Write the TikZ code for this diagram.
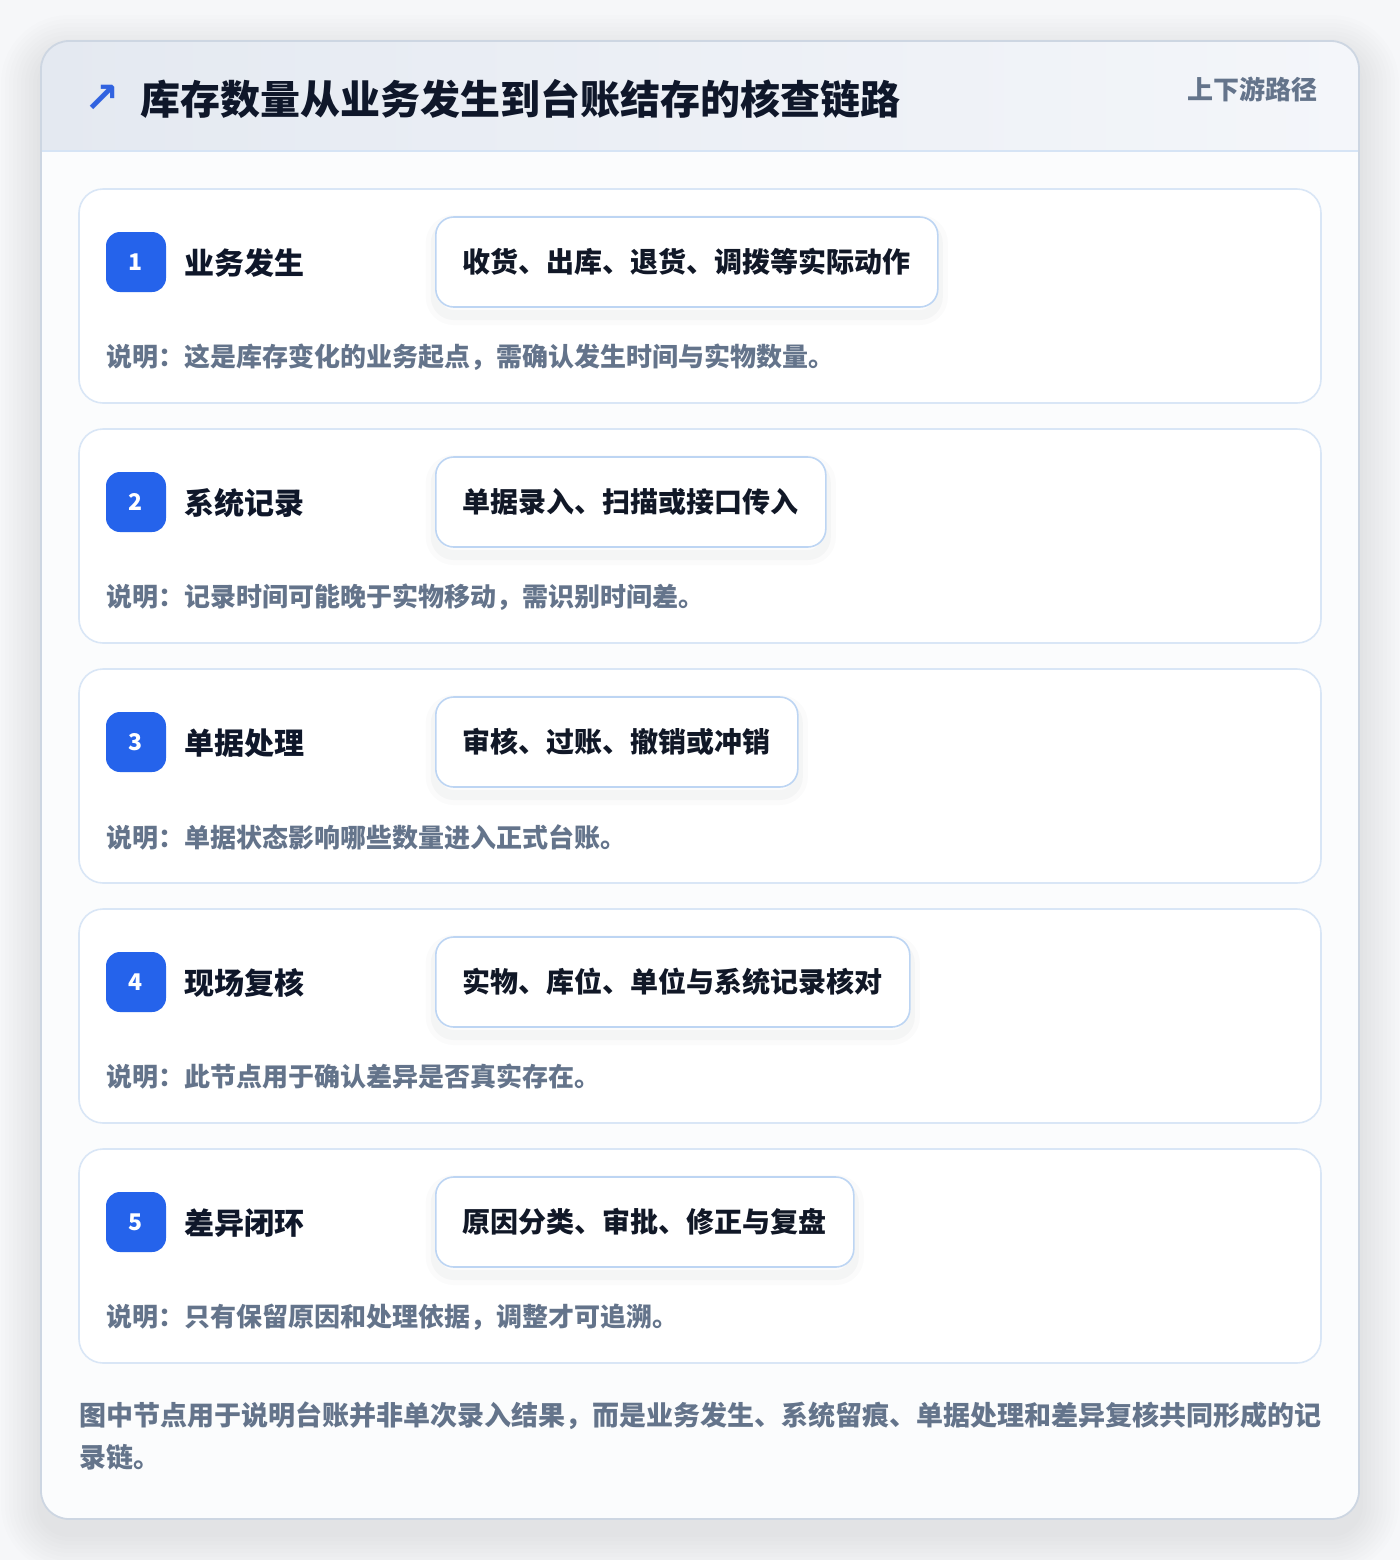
\documentclass[tikz,border=0pt]{standalone}
\usepackage{fontspec}
\setmainfont{Noto Sans CJK SC}
\newfontfamily\symfont{DejaVu Sans}
\usetikzlibrary{positioning, calc}

\definecolor{pagebg}{HTML}{F6F7F9}
\definecolor{panelfill}{HTML}{FBFCFD}
\definecolor{panelline}{HTML}{CDD6E2}
\definecolor{headL}{HTML}{E4E9F1}
\definecolor{headR}{HTML}{F4F6FA}
\definecolor{headline}{HTML}{D6E4F5}
\definecolor{cardline}{HTML}{D9E6F6}
\definecolor{actionline}{HTML}{BDD5F3}
\definecolor{badgeblue}{HTML}{2563EB}
\definecolor{iconblue}{HTML}{3163E0}
\definecolor{titleink}{HTML}{0F172A}
\definecolor{actionink}{HTML}{111827}
\definecolor{noteink}{HTML}{64748B}
\definecolor{shadowink}{HTML}{334155}

\tikzset{
  stepcard/.style={draw=cardline, fill=white, rounded corners=12pt, line width=0.8pt,
    minimum width=621pt, minimum height=107pt},
  numbadge/.style={fill=badgeblue, text=white, rounded corners=7pt, minimum size=30pt,
    inner sep=0pt, font=\fontsize{11.5}{13}\selectfont\bfseries},
  steptitle/.style={anchor=west, inner sep=0pt, text=titleink,
    font=\fontsize{15}{18}\selectfont\bfseries},
  actionbox/.style={anchor=west, draw=actionline, fill=white, rounded corners=9pt,
    line width=0.8pt, inner xsep=13.5pt, minimum height=45pt, text=actionink,
    font=\fontsize{14}{17}\selectfont\bfseries,
    preaction={draw=shadowink, line width=10pt, draw opacity=0.02, transform canvas={yshift=-4pt}},
    preaction={draw=shadowink, line width=5pt, draw opacity=0.03, transform canvas={yshift=-4pt}}},
  notetext/.style={anchor=west, inner sep=0pt, text=noteink,
    font=\fontsize{13}{16}\selectfont\bfseries},
}

\begin{document}
\begin{tikzpicture}[x=0.5pt, y=-0.5pt]
	\useasboundingbox (0,0) rectangle (1400,1560);
	\fill[pagebg] (0,0) rectangle (1400,1560);

	% soft shadow under the panel
	\foreach \r in {4,8,...,40}
		\fill[shadowink, opacity=0.007, rounded corners={(14+\r/2)*1pt}] (41-\r,41-\r+14) rectangle (1359+\r,1519+\r+14);

	% outer panel and header band
	\node (panel) [fill=panelfill, rounded corners=14pt, minimum width=659pt, minimum height=739pt] at (700,780) {};
	\begin{scope}
		\clip[rounded corners=14pt] (41,41) rectangle (1359,1519);
		\shade[left color=headL, right color=headR] (41,41) rectangle (1359,151);
	\end{scope}
	\draw[headline, line width=0.8pt] (41,151) -- (1359,151);
	\draw[panelline, line width=0.9pt, rounded corners=14pt] (41,41) rectangle (1359,1519);

	\node (icon) [text=iconblue, inner sep=0pt, font=\symfont\bfseries\fontsize{21}{24}\selectfont] at (102,99) {↗};
	\node (title) [anchor=west, inner sep=0pt, text=titleink, font=\fontsize{20}{24}\selectfont\bfseries] at (140,99) {库存数量从业务发生到台账结存的核查链路};
	\node (route) [anchor=east, inner sep=0pt, text=noteink, font=\fontsize{13}{16}\selectfont\bfseries] at (1318,89) {上下游路径};

	% step 1
	\node (card1) [stepcard] at (700,296) {};
	\node (num1) [numbadge] at (136,262) {1};
	\node (name1) [steptitle] at (184,263) {业务发生};
	\node (act1) [actionbox] at (435,262) {收货、出库、退货、调拨等实际动作};
	\node (note1) [notetext] at (106,357) {说明：这是库存变化的业务起点，需确认发生时间与实物数量。};

	% step 2
	\node (card2) [stepcard] at (700,536) {};
	\node (num2) [numbadge] at (136,502) {2};
	\node (name2) [steptitle] at (184,503) {系统记录};
	\node (act2) [actionbox] at (435,502) {单据录入、扫描或接口传入};
	\node (note2) [notetext] at (106,597) {说明：记录时间可能晚于实物移动，需识别时间差。};

	% step 3
	\node (card3) [stepcard] at (700,776) {};
	\node (num3) [numbadge] at (136,742) {3};
	\node (name3) [steptitle] at (184,743) {单据处理};
	\node (act3) [actionbox] at (435,742) {审核、过账、撤销或冲销};
	\node (note3) [notetext] at (106,837) {说明：单据状态影响哪些数量进入正式台账。};

	% step 4
	\node (card4) [stepcard] at (700,1016) {};
	\node (num4) [numbadge] at (136,982) {4};
	\node (name4) [steptitle] at (184,983) {现场复核};
	\node (act4) [actionbox] at (435,982) {实物、库位、单位与系统记录核对};
	\node (note4) [notetext] at (106,1077) {说明：此节点用于确认差异是否真实存在。};

	% step 5
	\node (card5) [stepcard] at (700,1256) {};
	\node (num5) [numbadge] at (136,1222) {5};
	\node (name5) [steptitle] at (184,1223) {差异闭环};
	\node (act5) [actionbox] at (435,1222) {原因分类、审批、修正与复盘};
	\node (note5) [notetext] at (106,1317) {说明：只有保留原因和处理依据，调整才可追溯。};

	% footer
	\node (footer) [anchor=west, inner sep=0pt, align=left, text=noteink, font=\fontsize{13.5}{21}\selectfont\bfseries] at (79,1436)
		{图中节点用于说明台账并非单次录入结果，而是业务发生、系统留痕、单据处理和差异复核共同形成的记\\录链。};
\end{tikzpicture}
\end{document}
